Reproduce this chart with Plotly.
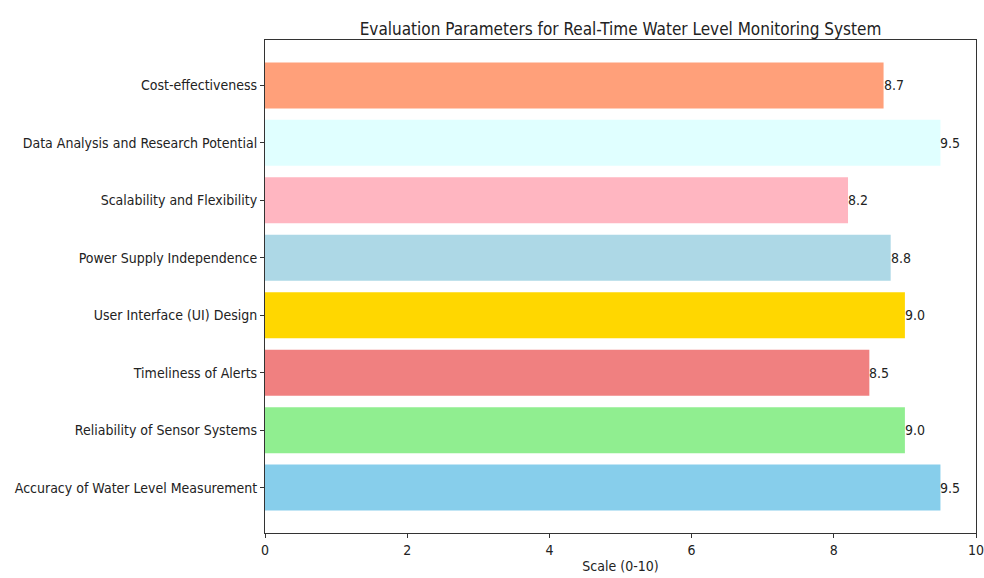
import plotly.graph_objects as go

categories = ["Accuracy of Water Level Measurement", "Reliability of Sensor Systems",
              "Timeliness of Alerts", "User Interface (UI) Design",
              "Power Supply Independence", "Scalability and Flexibility",
              "Data Analysis and Research Potential", "Cost-effectiveness"]
values = [9.5, 9.0, 8.5, 9.0, 8.8, 8.2, 9.5, 8.7]
colors = ["#87CEEB", "#90EE90", "#F08080", "#FFD700", "#ADD8E6", "#FFB6C1", "#E0FFFF", "#FFA07A"]

FONT = "DejaVu Sans Condensed, DejaVu Sans, sans-serif"
ypos = list(range(len(categories)))

fig = go.Figure()
fig.add_trace(go.Bar(x=values, y=ypos, orientation="h", width=0.8,
                     marker=dict(color=colors, line=dict(width=0)), showlegend=False))
for y, v in zip(ypos, values):
    fig.add_annotation(x=v, y=y, text=f"{v:.1f}", showarrow=False, xanchor="left",
                       yanchor="middle", xshift=-2, font=dict(size=14, color="#222"))

fig.update_layout(
    width=984, height=578,
    margin=dict(l=265, r=8, t=40, b=45, autoexpand=False),
    paper_bgcolor="white", plot_bgcolor="white",
    font=dict(family=FONT, size=14, color="#222"),
    title=dict(text="Evaluation Parameters for Real-Time Water Level Monitoring System",
               x=0.5, xref="paper", xanchor="center", y=1, yref="paper", yanchor="bottom",
               pad=dict(b=5), font=dict(size=17, color="#222")),
    bargap=0.2,
)
fig.update_xaxes(range=[0, 10], tickvals=[0, 2, 4, 6, 8, 10], ticks="outside", ticklen=4,
                 tickcolor="#333", showline=True, linecolor="#333", linewidth=1, mirror=True,
                 showgrid=False, zeroline=False, automargin=False, ticklabeloverflow="allow",
                 title=dict(text="Scale (0-10)", font=dict(size=14), standoff=4))
fig.update_yaxes(range=[-0.79, 7.79], tickvals=ypos, ticktext=categories, ticks="outside",
                 ticklen=4, tickcolor="#333", showline=True, linecolor="#333", linewidth=1,
                 mirror=True, showgrid=False, zeroline=False, automargin=False,
                 ticklabeloverflow="allow")

fig.write_html("out.html", config={"displayModeBar": False},
               post_script="document.body.style.margin='0';document.body.style.overflow='hidden';")
